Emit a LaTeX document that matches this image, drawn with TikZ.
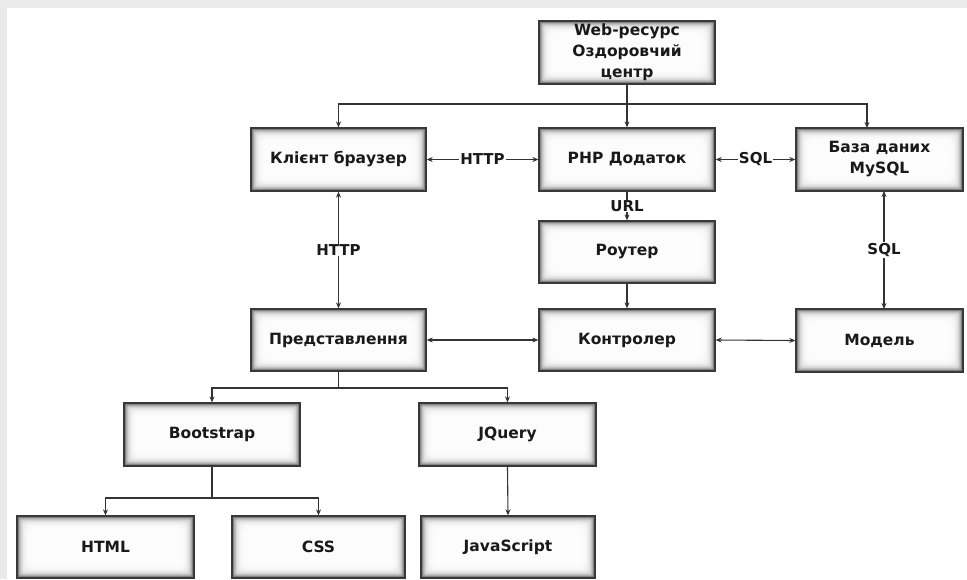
\documentclass[tikz,border=0pt]{standalone}
\usepackage{fontspec}
\setmainfont{DejaVu Sans}
\usetikzlibrary{arrows.meta}
\definecolor{bggray}{HTML}{EBEAEA}
\definecolor{linec}{HTML}{333333}
\tikzset{
  box/.style={draw=black!78, line width=1.3pt, inner sep=0pt, align=center,
    font=\bfseries\fontsize{15.5}{21}\selectfont, text=black!90,
    path picture={
      \foreach \k in {0,...,14}{
        \pgfmathtruncatemacro\cc{round(68*exp(-\k/3.2))}
        \fill[black!\cc, rounded corners={\k*0.6pt}]
          ([shift={(\k*0.9pt,\k*0.9pt)}]path picture bounding box.south west)
          rectangle
          ([shift={(-\k*0.9pt,-\k*0.9pt)}]path picture bounding box.north east);
      }
    }},
  conn/.style={draw=linec, line width=1.1pt},
  arr/.style={conn, -{Stealth[length=6pt,width=5pt]}},
  barr/.style={conn, {Stealth[length=6pt,width=5pt]}-{Stealth[length=6pt,width=5pt]}},
  lbl/.style={fill=white, inner sep=1pt, font=\bfseries\fontsize{15}{17}\selectfont, text=black!90}
}
\begin{document}
\begin{tikzpicture}[x=1pt,y=-1pt]
\useasboundingbox (0,0) rectangle (967,579);
\fill[bggray] (0,0) rectangle (967,579);
\fill[white] (7,8) rectangle (967,579);

\node[box, minimum width=176pt, minimum height=63pt] (web) at (627,52.5) {Web-ресурс\\Оздоровчий\\центр};
\node[box, minimum width=175pt, minimum height=63pt] (client) at (338.5,159.5) {Клієнт браузер};
\node[box, minimum width=176pt, minimum height=63pt] (php) at (627,159.5) {PHP Додаток};
\node[box, minimum width=167pt, minimum height=63pt] (db) at (879.5,159.5) {База даних\\MySQL};
\node[box, minimum width=176pt, minimum height=62pt] (router) at (627,252) {Роутер};
\node[box, minimum width=175pt, minimum height=62pt] (view) at (338.5,340) {Представлення};
\node[box, minimum width=176pt, minimum height=62pt] (ctrl) at (627,340) {Контролер};
\node[box, minimum width=167pt, minimum height=63pt] (model) at (879.5,340.5) {Модель};
\node[box, minimum width=176pt, minimum height=63pt] (boot) at (212,434.5) {Bootstrap};
\node[box, minimum width=177pt, minimum height=63pt] (jq) at (507.5,434.5) {JQuery};
\node[box, minimum width=177pt, minimum height=62pt] (html) at (105.5,547) {HTML};
\node[box, minimum width=173pt, minimum height=62pt] (css) at (318.5,547) {CSS};
\node[box, minimum width=174pt, minimum height=62pt] (js) at (508,547) {JavaScript};

% top distribution
\coordinate (hub) at (627,104);
\coordinate (dbin) at (867,128);
\draw[arr] (web.south) -- (php.north);
\draw[arr] (hub) -| (client.north);
\draw[arr] (hub) -| (dbin);

% row 1 links
\draw[barr] (client.east) -- node[lbl] {HTTP} (php.west);
\draw[barr] (php.east) -- node[lbl] {SQL} (db.west);

% verticals
\draw[barr] (client.south) -- node[lbl] {HTTP} (view.north);
\coordinate (dbout) at (884,191);
\coordinate (modin) at (884,309);
\draw[barr] (dbout) -- node[lbl] {SQL} (modin);
\draw[arr] (php.south) -- node[lbl, inner sep=0pt] {URL} (router.north);
\draw[arr] (router.south) -- (ctrl.north);

% row 3 links
\draw[barr] (view.east) -- (ctrl.west);
\draw[barr] (ctrl.east) -- (model.west);

% view tree
\coordinate (vhub) at (338.5,388);
\draw[conn] (view.south) -- (vhub);
\draw[arr] (vhub) -| (boot.north);
\draw[arr] (vhub) -| (jq.north);

% bootstrap tree
\coordinate (bhub) at (212,498);
\draw[conn] (boot.south) -- (bhub);
\draw[arr] (bhub) -| (html.north);
\draw[arr] (bhub) -| (css.north);

\draw[arr] (jq.south) -- (js.north);
\end{tikzpicture}
\end{document}
